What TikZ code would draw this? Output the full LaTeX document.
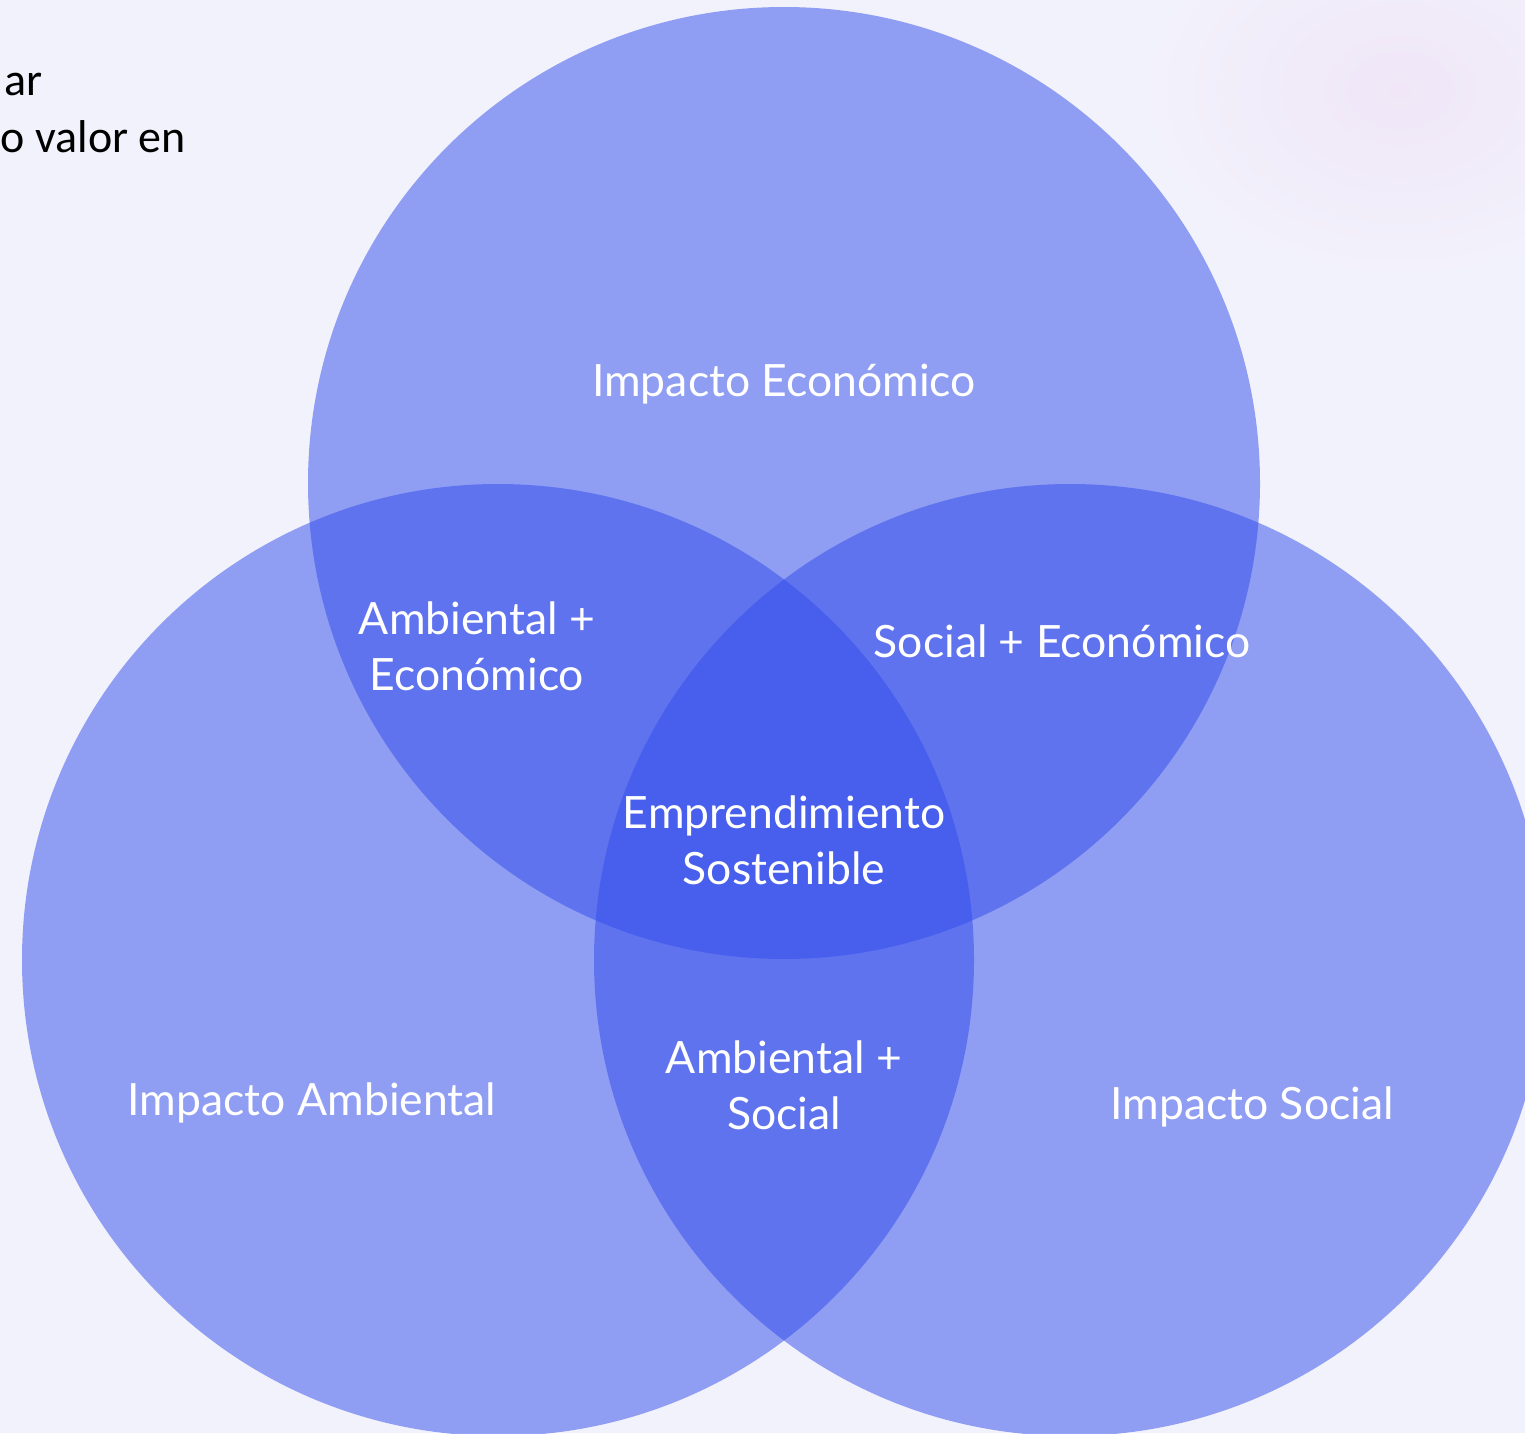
\documentclass[tikz,border=0pt]{standalone}
\usepackage{fontspec}
\setmainfont{Lato}
\newfontfamily\bodyfont{Carlito}
\definecolor{bgc}{RGB}{242,242,252}
\definecolor{pinkc}{RGB}{240,230,247}
\definecolor{vblue}{RGB}{50,77,235}
\begin{document}
\begin{tikzpicture}[x=1pt,y=-1pt,
  venn/.style={circle, inner sep=0pt, minimum size=952pt, fill=vblue, fill opacity=0.515, draw=none},
  lbl/.style={text=white, font=\fontsize{44.5}{56}\selectfont, align=center, inner sep=0pt},
  side/.style={text=black, font=\bodyfont\fontsize{46}{57}\selectfont, inner sep=0pt, anchor=base east}]
\useasboundingbox (0,0) rectangle (1525,1433);
\clip (0,0) rectangle (1525,1433);
\fill[bgc] (0,0) rectangle (1525,1433);
\shade[inner color=pinkc, outer color=bgc, draw=none] (1400,90) ellipse (260 and 190);
\node[side] (t1) at (43,95) {ar};
\node[side] (t2) at (186,152) {o valor en};
\node[venn] (eco) at (784,483) {};
\node[venn] (amb) at (498,960) {};
\node[venn] (soc) at (1070,960) {};
\node[lbl] (leco) at (784,384) {Impacto Económico};
\node[lbl] (lae) at (477,646) {Ambiental +\\Económico};
\node[lbl] (lse) at (1062,641) {Social + Económico};
\node[lbl] (lcen) at (784,840) {Emprendimiento\\Sostenible};
\node[lbl] (las) at (784,1085) {Ambiental +\\Social};
\node[lbl] (lamb) at (312,1103) {Impacto Ambiental};
\node[lbl] (lsoc) at (1252,1107) {Impacto Social};
\end{tikzpicture}
\end{document}
